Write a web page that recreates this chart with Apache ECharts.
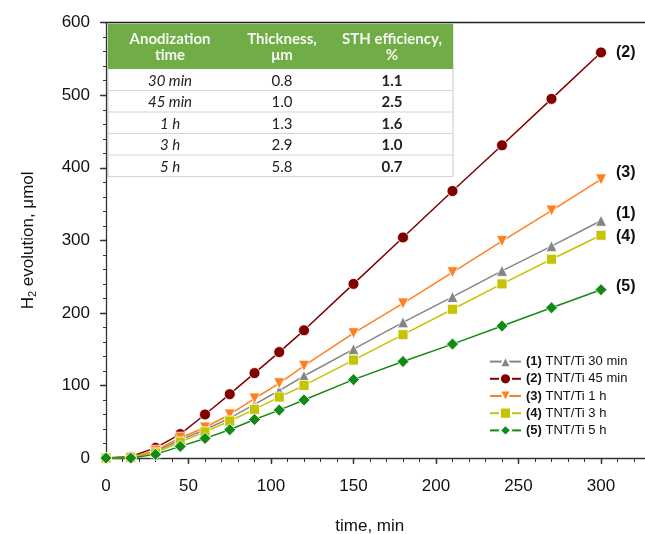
<!DOCTYPE html>
<html>
<head>
<meta charset="utf-8">
<script src="https://cdn.jsdelivr.net/npm/echarts@6/dist/echarts.min.js"></script>
<style>
  html, body { margin: 0; padding: 0; background: #fff; }
  #chart { width: 645px; height: 534px; }
</style>
</head>
<body>
<div id="chart"></div>
<script>
// sampling times, min
const timeMin = [0, 15, 30, 45, 60, 75, 90, 105, 120, 150, 180, 210, 240, 270, 300]

// H2 evolution, umol
const h2At30min = [0, 1, 9, 25, 39, 55, 74, 93, 113, 150, 187, 222, 258, 292, 327]
const h2At45min = [0, 2, 14, 33, 60, 88, 117, 146, 176, 240, 304, 368, 431, 495, 559]
const h2At1h = [0, 1, 10, 28, 42, 60, 82, 103, 127, 172, 213, 256, 299, 341, 384]
const h2At3h = [0, 1, 7, 22, 36, 51, 67, 84, 100, 135, 170, 205, 240, 274, 307]
const h2At5h = [0, 0, 5, 16, 27, 39, 53, 66, 80, 108, 133, 157, 182, 207, 232]

const seriesNames = ['(1) TNT/Ti 30 min', '(2) TNT/Ti 45 min', '(3) TNT/Ti 1 h', '(4) TNT/Ti 3 h', '(5) TNT/Ti 5 h']
const endTags = ['(1)', '(2)', '(3)', '(4)', '(5)']

// inset table
const tableHeader = ['Anodization\ntime', 'Thickness,\nμm', 'STH efficiency,\n%']
const tableTime = ['30 min', '45 min', '1 h', '3 h', '5 h']
const tableThickness = ['0.8', '1.0', '1.3', '2.9', '5.8']
const tableSTH = ['1.1', '2.5', '1.6', '1.0', '0.7']

const FONT = '"Liberation Sans", Arial, sans-serif'
const TABLE_FONT = 'Lato, "Open Sans", sans-serif'

const chart = echarts.init(document.getElementById('chart'), null, { renderer: 'canvas' })

const makeSeries = (name, values, color, symbol, size, extra, tag, tagOffset) => ({
  name,
  type: 'line',
  data: timeMin.map((t, i) => [t, values[i]]),
  symbol,
  symbolSize: size,
  lineStyle: { color, width: 1.5 },
  itemStyle: { color, borderColor: '#fff', borderWidth: 0.8 },
  endLabel: {
    show: true,
    formatter: tag,
    distance: 15,
    offset: tagOffset,
    fontFamily: FONT,
    fontWeight: 'bold',
    fontSize: 16,
    color: '#111',
  },
  ...extra,
})

// table drawn as graphic elements
const tableLeft = 108
const tableTop = 24
const tableWidth = 345
const headerHeight = 45
const rowHeight = 21.5
const colCenters = [62, 174, 284]

const tableEls = []
tableEls.push({
  type: 'rect',
  shape: { x: 0, y: 0, width: tableWidth, height: headerHeight + rowHeight * tableTime.length },
  style: { fill: '#fff', stroke: '#c9c9c9', lineWidth: 1 },
})
tableEls.push({
  type: 'rect',
  shape: { x: 0, y: 0, width: tableWidth, height: headerHeight },
  style: { fill: '#70ad47' },
})
tableHeader.forEach((h, c) => {
  tableEls.push({
    type: 'text',
    x: colCenters[c],
    y: headerHeight / 2 + 1,
    style: {
      text: h, align: 'center', verticalAlign: 'middle',
      font: 'bold 15px ' + TABLE_FONT, fill: '#f4f8f0', lineHeight: 16,
    },
  })
})
tableTime.forEach((t, r) => {
  const y0 = headerHeight + rowHeight * r
  tableEls.push({
    type: 'line',
    shape: { x1: 0, y1: y0 + rowHeight, x2: tableWidth, y2: y0 + rowHeight },
    style: { stroke: '#d4d4d4', lineWidth: 1 },
  })
  const cells = [
    [t, 'italic 15px '],
    [tableThickness[r], '15px '],
    [tableSTH[r], 'bold 15px '],
  ]
  cells.forEach((cell, c) => {
    tableEls.push({
      type: 'text',
      x: colCenters[c],
      y: y0 + rowHeight / 2 + 1,
      style: { text: cell[0], align: 'center', verticalAlign: 'middle', font: cell[1] + TABLE_FONT, fill: '#222' },
    })
  })
})

const axisLineStyle = { color: '#333', width: 1.3 }

const option = {
  animation: false,
  backgroundColor: '#fff',
  grid: { left: 106, top: 22.7, width: 577.5, height: 435.3, outerBoundsMode: 'none', containLabel: false },
  legend: {
    orient: 'vertical',
    left: 484,
    top: 350,
    itemWidth: 31,
    itemHeight: 14,
    itemGap: 4,
    data: seriesNames,
    formatter: (name) => name.replace(/^(\(\d\))/, '{b|$1}'),
    textStyle: {
      fontFamily: FONT,
      fontSize: 13,
      color: '#111',
      rich: { b: { fontFamily: FONT, fontSize: 13, fontWeight: 'bold', color: '#111' } },
    },
  },
  xAxis: [
    {
      type: 'value',
      min: 0,
      max: 350,
      interval: 50,
      name: 'time, min',
      nameLocation: 'middle',
      nameGap: 60,
      nameTextStyle: { fontFamily: FONT, fontSize: 17, color: '#111', padding: [0, 50, 0, 0] },
      axisLine: { show: true, lineStyle: axisLineStyle },
      axisTick: { show: true, inside: false, length: 6, lineStyle: axisLineStyle },
      minorTick: { show: true, splitNumber: 5, length: 4, lineStyle: { color: '#333', width: 1 } },
      axisLabel: { fontFamily: FONT, fontSize: 17, color: '#111', margin: 20 },
      splitLine: { show: false },
    },
    {
      type: 'value',
      min: 0,
      max: 350,
      interval: 50,
      axisLine: { show: false },
      axisTick: { show: true, inside: true, length: 5, lineStyle: axisLineStyle },
      axisLabel: { show: false },
      splitLine: { show: false },
    },
    {
      type: 'value',
      position: 'top',
      min: 0,
      max: 350,
      axisLine: { show: true, onZero: false, lineStyle: { color: '#222', width: 1.3 } },
      axisTick: { show: false },
      axisLabel: { show: false },
      splitLine: { show: false },
    },
  ],
  yAxis: [
    {
      type: 'value',
      min: 0,
      max: 600,
      interval: 100,
      name: 'H{sub|2} evolution, μmol',
      nameLocation: 'middle',
      nameGap: 68,
      nameTextStyle: {
        fontFamily: FONT,
        fontSize: 17,
        color: '#111',
        rich: { sub: { fontFamily: FONT, fontSize: 11, color: '#111', padding: [9, 0, 0, 0] } },
      },
      axisLine: { show: true, lineStyle: axisLineStyle },
      axisTick: { show: true, inside: false, length: 6, lineStyle: axisLineStyle },
      minorTick: { show: true, splitNumber: 5, length: 3, lineStyle: { color: '#333', width: 1 } },
      axisLabel: { fontFamily: FONT, fontSize: 17, color: '#111', margin: 16 },
      splitLine: { show: false },
    },
    {
      type: 'value',
      min: 0,
      max: 600,
      interval: 100,
      axisLine: { show: false },
      axisTick: { show: true, inside: true, length: 5, lineStyle: axisLineStyle },
      axisLabel: { show: false },
      splitLine: { show: false },
    },
  ],
  graphic: [
    { type: 'group', x: tableLeft, y: tableTop, z: 100, children: tableEls },
  ],
  series: [
    makeSeries(seriesNames[0], h2At30min, '#858585', 'triangle', 11, {}, endTags[0], [0, -7]),
    makeSeries(seriesNames[1], h2At45min, '#800000', 'circle', 11, {}, endTags[1], [0, 0]),
    makeSeries(seriesNames[2], h2At1h, '#ff8020', 'triangle', 11, { symbolRotate: 180 }, endTags[2], [0, -7]),
    makeSeries(seriesNames[3], h2At3h, '#c4c400', 'rect', 10, {}, endTags[3], [0, 1]),
    makeSeries(seriesNames[4], h2At5h, '#138a13', 'diamond', 12, {}, endTags[4], [0, -3]),
  ],
}

chart.setOption(option)

window.addEventListener('resize', () => chart.resize())
</script>
</body>
</html>
